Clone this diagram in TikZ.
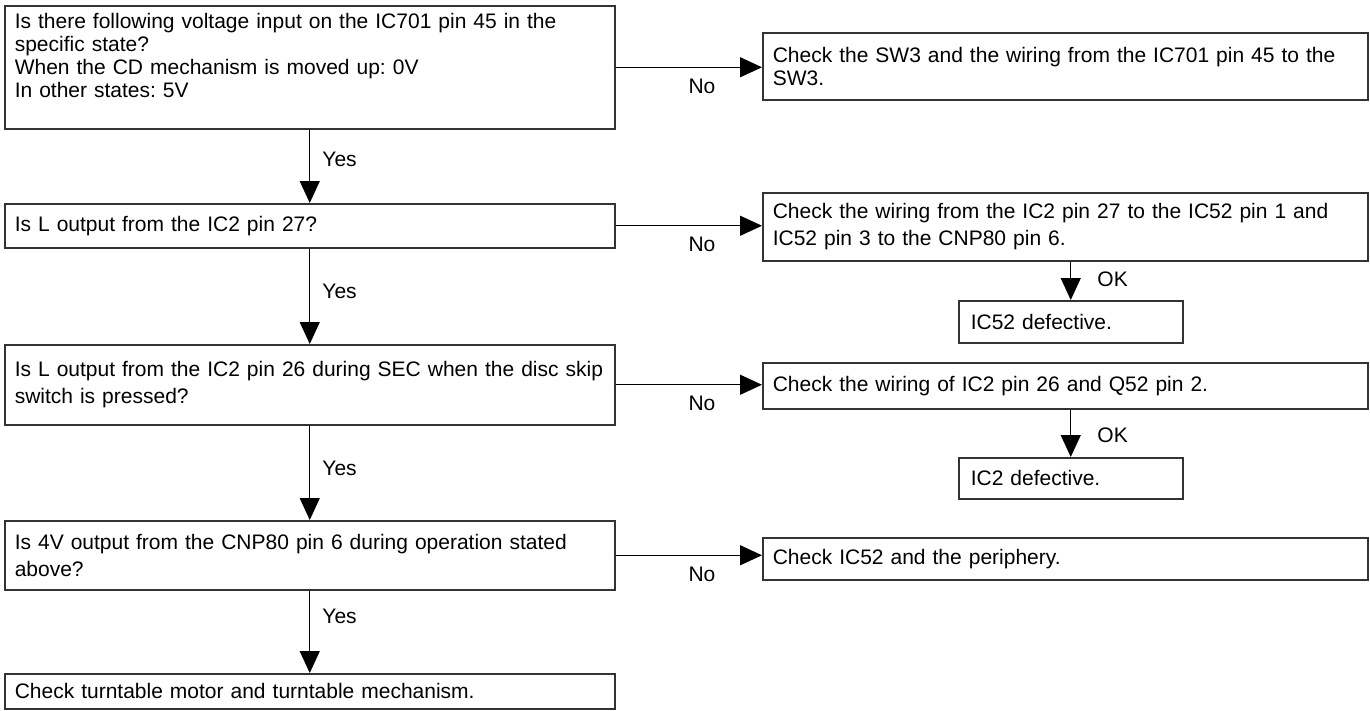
\documentclass[tikz,border=0pt]{standalone}
\usepackage{fontspec}
\setmainfont{Liberation Sans}
\usetikzlibrary{arrows.meta, positioning}
\frenchspacing

\begin{document}
\begin{tikzpicture}[x=1pt, y=-1pt, line width=1.3pt,
    >={Triangle[length=22pt, width=20pt]},
    every node/.style={font=\fontsize{21}{27}\selectfont},
    box/.style={draw=black!80, line width=1.5pt, anchor=north west, align=left, inner xsep=10pt, inner ysep=0pt},
    tight/.style={font=\fontsize{21}{23}\selectfont},
    qbox/.style={box, text width=590pt},
    cbox/.style={box, text width=585pt},
    rbox/.style={box, text width=200pt, inner xsep=12pt},
    lbl/.style={inner sep=0pt}]
    \useasboundingbox (0,0) rectangle (1370,710);

    % Questions on the left (empty last line keeps the text high in the box)
    \node[qbox, tight, minimum height=123pt] (q1) at (4,5) {Is there following voltage input on the IC701 pin 45 in the\\specific state?\\When the CD mechanism is moved up: 0V\\In other states: 5V\\\mbox{}};
    \node[qbox, minimum height=44pt] (q2) at (4,203) {Is L output from the IC2 pin 27?};
    \node[qbox, minimum height=80pt] (q3) at (4,344) {Is L output from the IC2 pin 26 during SEC when the disc skip\\switch is pressed?};
    \node[qbox, minimum height=69pt] (q4) at (4,520) {Is 4V output from the CNP80 pin 6 during operation stated\\above?};
    \node[qbox, minimum height=35pt] (q5) at (4,673) {Check turntable motor and turntable mechanism.};

    % Checks on the right
    \node[cbox, tight, minimum height=67pt] (c1) at (762,32) {Check the SW3 and the wiring from the IC701 pin 45 to the\\SW3.};
    \node[cbox, minimum height=68pt] (c2) at (762,192) {Check the wiring from the IC2 pin 27 to the IC52 pin 1 and\\IC52 pin 3 to the CNP80 pin 6.};
    \node[rbox, minimum height=42pt] (r1) at (958,300) {IC52 defective.};
    \node[cbox, minimum height=46pt] (c3) at (762,362) {Check the wiring of IC2 pin 26 and Q52 pin 2.};
    \node[rbox, minimum height=41pt] (r2) at (958,457) {IC2 defective.};
    \node[cbox, minimum height=42pt] (c4) at (762,537) {Check IC52 and the periphery.};

    % Yes branches
    \draw[->] (q1) -- node[pos=0.4, right=12pt, lbl] {Yes} (q2);
    \draw[->] (q2) -- node[pos=0.45, right=12pt, lbl] {Yes} (q3);
    \draw[->] (q3) -- node[pos=0.45, right=12pt, lbl] {Yes} (q4);
    \draw[->] (q4) -- node[pos=0.31, right=12pt, lbl] {Yes} (q5);

    % No branches
    \draw[->] (q1.east) -- node[pos=0.59, below=11pt, lbl] {No} (q1.east -| c1.west);
    \draw[->] (q2.east) -- node[pos=0.59, below=11pt, lbl] {No} (q2.east -| c2.west);
    \draw[->] (q3.east) -- node[pos=0.59, below=11pt, lbl] {No} (q3.east -| c3.west);
    \draw[->] (q4.east) -- node[pos=0.59, below=11pt, lbl] {No} (q4.east -| c4.west);

    % OK branches
    \draw[->] (c2.south -| r1.north) -- node[pos=0.45, right=26pt, lbl] {OK} (r1.north);
    \draw[->] (c3.south -| r2.north) -- node[pos=0.55, right=26pt, lbl] {OK} (r2.north);
\end{tikzpicture}
\end{document}
